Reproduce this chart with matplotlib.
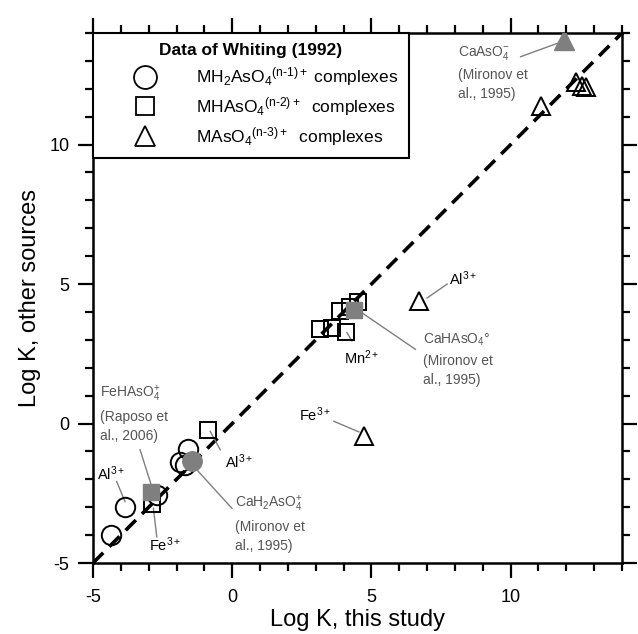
import matplotlib
matplotlib.use("Agg")
import matplotlib.pyplot as plt
from matplotlib.lines import Line2D
from matplotlib.ticker import MultipleLocator

plt.rcParams['font.family'] = ['Liberation Sans', 'DejaVu Sans']
plt.rcParams['mathtext.fontset'] = 'custom'
plt.rcParams['mathtext.rm'] = 'Liberation Sans'
plt.rcParams['mathtext.it'] = 'Liberation Sans:italic'
plt.rcParams['mathtext.bf'] = 'Liberation Sans:bold'
plt.rcParams['axes.unicode_minus'] = False

# ---- data (Log K this study, Log K other sources) ----
circ_x = [-4.35, -3.85, -2.7, -1.87, -1.58, -1.7]
circ_y = [-4.0, -2.98, -2.55, -1.38, -0.9, -1.5]
sq_x = [-2.88, -0.86, 3.14, 3.58, 4.09, 3.88, 4.24, 4.51]
sq_y = [-2.87, -0.24, 3.38, 3.44, 3.28, 4.04, 4.18, 4.36]
tri_x = [6.7, 4.75, 11.08, 12.35, 12.55, 12.7]
tri_y = [4.4, -0.45, 11.4, 12.25, 12.1, 12.05]
# Other literature values (filled grey)
gcirc_x = [-1.44]
gcirc_y = [-1.36]
gsq_x = [-2.9, 4.36]
gsq_y = [-2.45, 4.06]
gtri_x = [11.9]
gtri_y = [13.75]

line_1to1 = [-5, 14]

gray = '#7f7f7f'
tgray = '#555555'

fig = plt.figure(figsize=(6.38, 6.34), dpi=100)
ax = fig.add_axes([93/638, 1-563/634, (622-93)/638, (563-33)/634])
ax.set_xlim(-5, 14)
ax.set_ylim(-5, 14)

ax.plot(line_1to1, line_1to1, color='black', lw=2.6, ls=(0, (4, 2.4)), zorder=1)

ms_c, ms_s, ms_t = 14, 12, 13
ax.plot(circ_x, circ_y, 'o', ms=ms_c, mfc='none', mec='black', mew=1.4, zorder=3)
ax.plot(sq_x, sq_y, 's', ms=ms_s, mfc='none', mec='black', mew=1.4, zorder=3)
ax.plot(tri_x, tri_y, '^', ms=ms_t, mfc='none', mec='black', mew=1.4, zorder=3)
ax.plot(gcirc_x, gcirc_y, 'o', ms=ms_c, mfc=gray, mec=gray, zorder=4)
ax.plot(gsq_x, gsq_y, 's', ms=ms_s, mfc=gray, mec=gray, zorder=4)
ax.plot(gtri_x, gtri_y, '^', ms=ms_t + 1, mfc=gray, mec=gray, zorder=4)

# leader lines
leaders = [
    ((10.36, 13.15), (11.68, 13.63)),
    ((7.0, 4.5), (7.72, 5.0)),
    ((4.66, 3.97), (6.58, 2.66)),
    ((4.12, 3.26), (4.3, 2.96)),
    ((-3.31, -0.94), (-2.89, -2.26)),
    ((-4.15, -2.08), (-3.85, -2.8)),
    ((-2.83, -3.04), (-2.71, -4.06)),
    ((-0.79, -0.28), (-0.43, -0.94)),
    ((-1.27, -1.66), (-0.01, -3.04)),
    ((3.65, 0.08), (4.55, -0.3)),
]
for (x0, y0), (x1, y1) in leaders:
    ax.plot([x0, x1], [y0, y1], color=gray, lw=1.0, zorder=2)

def gtext(x, y, s, color=tgray, fs=10):
    ax.text(x, y, s, fontsize=fs, color=color, ha='left', va='center', zorder=5)

gtext(8.1, 13.3, r'CaAsO$_4^{-}$')
gtext(8.1, 12.5, '(Mironov et')
gtext(8.1, 11.8, 'al., 1995)')
gtext(6.85, 3.0, r'CaHAsO$_4$°')
gtext(6.85, 2.25, '(Mironov et')
gtext(6.85, 1.55, 'al., 1995)')
gtext(-4.75, 1.05, r'FeHAsO$_4^{+}$')
gtext(-4.75, 0.25, '(Raposo et')
gtext(-4.75, -0.45, 'al., 2006)')
gtext(0.1, -2.9, r'CaH$_2$AsO$_4^{+}$')
gtext(0.1, -3.7, '(Mironov et')
gtext(0.1, -4.4, 'al., 1995)')

bfs = 10.5
gtext(7.8, 5.2, r'Al$^{3+}$', 'black', bfs)
gtext(4.0, 2.35, r'Mn$^{2+}$', 'black', bfs)
gtext(-4.85, -1.8, r'Al$^{3+}$', 'black', bfs)
gtext(-3.0, -4.35, r'Fe$^{3+}$', 'black', bfs)
gtext(-0.25, -1.36, r'Al$^{3+}$', 'black', bfs)
gtext(2.4, 0.3, r'Fe$^{3+}$', 'black', bfs)

# axes styling
for sp in ax.spines.values():
    sp.set_linewidth(1.8)
ax.xaxis.set_major_locator(MultipleLocator(5))
ax.xaxis.set_minor_locator(MultipleLocator(1))
ax.yaxis.set_major_locator(MultipleLocator(5))
ax.yaxis.set_minor_locator(MultipleLocator(1))
ax.tick_params(which='both', direction='out', top=True, right=True,
               labeltop=False, labelright=False, width=1.6, labelsize=13)
ax.tick_params(axis='x', which='major', pad=8)
ax.tick_params(axis='y', which='major', pad=6)
ax.tick_params(which='major', length=11)
ax.tick_params(which='minor', length=6)
ax.set_xlabel('Log K, this study', fontsize=17, labelpad=2)
ax.set_ylabel('Log K, other sources', fontsize=17, labelpad=6)

handles = [
    Line2D([], [], ls='none', marker='o', ms=16.5, mfc='none', mec='black', mew=1.3),
    Line2D([], [], ls='none', marker='s', ms=12.5, mfc='none', mec='black', mew=1.3),
    Line2D([], [], ls='none', marker='^', ms=14.5, mfc='none', mec='black', mew=1.3),
]
labels = [r'MH$_2$AsO$_4$$^{\mathrm{(n}\text{-}\mathrm{1)+}}$ complexes',
          r'MHAsO$_4$$^{\mathrm{(n}\text{-}\mathrm{2)+}}$  complexes',
          r'MAsO$_4$$^{\mathrm{(n}\text{-}\mathrm{3)+}}$  complexes']
leg = ax.legend(handles, labels, loc='upper left', bbox_to_anchor=(0, 1),
                borderaxespad=0, fancybox=False, framealpha=1, edgecolor='black',
                fontsize=12.5, title='Data of Whiting (1992)',
                title_fontproperties={'weight': 'bold', 'size': 12.5},
                labelspacing=0.4, handletextpad=0.55, borderpad=0.6,
                handlelength=4.8)
leg.get_frame().set_linewidth(1.5)
leg.set_zorder(6)

fig.savefig('out.png', dpi=100)
